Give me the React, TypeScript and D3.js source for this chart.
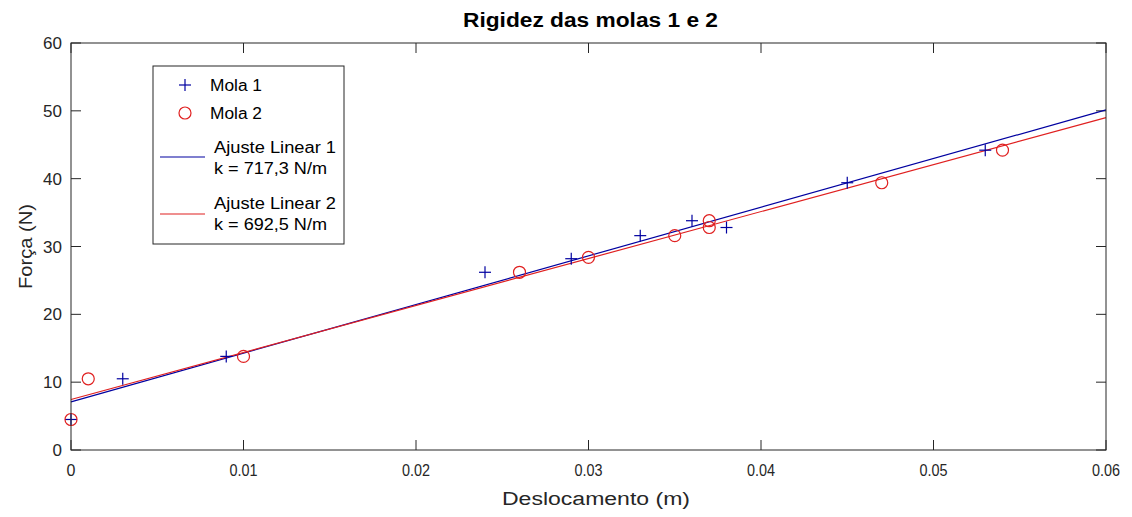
import React from "react";
import * as d3 from "d3";

const xMola1 = [0, 0.003, 0.009, 0.024, 0.029, 0.033, 0.036, 0.038, 0.045, 0.053];
const yMola1 = [4.5, 10.5, 13.8, 26.2, 28.2, 31.6, 33.8, 32.8, 39.4, 44.2];
const xMola2 = [0, 0.001, 0.010, 0.026, 0.030, 0.035, 0.037, 0.037, 0.047, 0.054];
const yMola2 = [4.5, 10.5, 13.8, 26.2, 28.4, 31.6, 33.8, 32.8, 39.4, 44.2];
const fit1 = { k: 717.3, b: 7.1 };
const fit2 = { k: 692.5, b: 7.45 };
const xTicks = [0, 0.01, 0.02, 0.03, 0.04, 0.05, 0.06];
const yTicks = [0, 10, 20, 30, 40, 50, 60];

const W = 1132, H = 517;
const L = 71, R = 1106, T = 43, B = 450;
const BLUE = "#0000a0";
const RED = "#e02020";
const TXT = "#262626";
const FONT = "Arial, 'Liberation Sans', Helvetica, sans-serif";

export default function App() {
  const x = d3.scaleLinear().domain([0, 0.06]).range([L, R]);
  const y = d3.scaleLinear().domain([0, 60]).range([B, T]);
  const line = d3.line<number[]>().x((d) => x(d[0])).y((d) => y(d[1]));
  const l1 = line([[0, fit1.b], [0.06, fit1.b + fit1.k * 0.06]]);
  const l2 = line([[0, fit2.b], [0.06, fit2.b + fit2.k * 0.06]]);
  const tl = 10;
  const plus = (cx: number, cy: number, key: any, c = BLUE) => (
    <g key={key} stroke={c} strokeWidth={1.2}>
      <line x1={cx - 6} x2={cx + 6} y1={cy} y2={cy} />
      <line x1={cx} x2={cx} y1={cy - 6} y2={cy + 6} />
    </g>
  );
  return (
    <svg width={W} height={H} style={{ position: "absolute", left: 0, top: 0, background: "#fff" }} fontFamily={FONT}>
      <rect x={0} y={0} width={W} height={H} fill="#fff" />
      {/* ticks */}
      <g stroke={TXT} strokeWidth={1}>
        {xTicks.map((t, i) => (
          <g key={"xt" + i}>
            <line x1={x(t)} x2={x(t)} y1={B} y2={B - tl} />
            <line x1={x(t)} x2={x(t)} y1={T} y2={T + tl} />
          </g>
        ))}
        {yTicks.map((t, i) => (
          <g key={"yt" + i}>
            <line x1={L} x2={L + tl} y1={y(t)} y2={y(t)} />
            <line x1={R} x2={R - tl} y1={y(t)} y2={y(t)} />
          </g>
        ))}
      </g>
      {/* fit lines */}
      <path d={l1 || ""} stroke={BLUE} strokeWidth={1.2} fill="none" />
      <path d={l2 || ""} stroke={RED} strokeWidth={1.2} fill="none" />
      {/* points */}
      {xMola1.map((v, i) => plus(x(v), y(yMola1[i]), "p" + i))}
      {xMola2.map((v, i) => (
        <circle key={"c" + i} cx={x(v)} cy={y(yMola2[i])} r={6} fill="none" stroke={RED} strokeWidth={1.2} />
      ))}
      <rect x={L} y={T} width={R - L} height={B - T} fill="none" stroke={TXT} strokeWidth={1} />
      {/* tick labels */}
      {xTicks.map((t, i) => (
        <text key={"xl" + i} x={x(t)} y={B + 26} textAnchor="middle" fontSize={16} fill={TXT}
          {...(t === 0 ? {} : { textLength: 28, lengthAdjust: "spacingAndGlyphs" })}>
          {t === 0 ? "0" : String(t)}
        </text>
      ))}
      {yTicks.map((t, i) => (
        <text key={"yl" + i} x={L - 9} y={y(t) + 6} textAnchor="end" fontSize={17} fill={TXT}>
          {t}
        </text>
      ))}
      {/* labels */}
      <text x={(L + R) / 2 + 2} y={27} textAnchor="middle" fontSize={20} fontWeight="bold" fill="#000"
        textLength={255} lengthAdjust="spacingAndGlyphs">
        Rigidez das molas 1 e 2
      </text>
      <text x={596} y={505} textAnchor="middle" fontSize={18} fill={TXT}
        textLength={188} lengthAdjust="spacingAndGlyphs">
        Deslocamento (m)
      </text>
      <text transform={`translate(32,${(T + B) / 2}) rotate(-90)`} textAnchor="middle" fontSize={19} fill={TXT}
        textLength={85} lengthAdjust="spacingAndGlyphs">
        Força (N)
      </text>
      {/* legend */}
      <g>
        <rect x={153} y={66} width={191} height={178} fill="#fff" stroke={TXT} strokeWidth={1} />
        {plus(185, 85, "lg1")}
        <text x={210} y={91} fontSize={16} fill="#000" textLength={52} lengthAdjust="spacingAndGlyphs">Mola 1</text>
        <circle cx={185} cy={113} r={6} fill="none" stroke={RED} strokeWidth={1.2} />
        <text x={210} y={119} fontSize={16} fill="#000" textLength={52} lengthAdjust="spacingAndGlyphs">Mola 2</text>
        <line x1={160} x2={205} y1={157} y2={157} stroke={BLUE} strokeWidth={1.2} />
        <text x={214} y={153} fontSize={16} fill="#000" textLength={122} lengthAdjust="spacingAndGlyphs">Ajuste Linear 1</text>
        <text x={214} y={174} fontSize={16} fill="#000" textLength={113} lengthAdjust="spacingAndGlyphs">k = 717,3 N/m</text>
        <line x1={160} x2={205} y1={214} y2={214} stroke={RED} strokeWidth={1.2} />
        <text x={214} y={209} fontSize={16} fill="#000" textLength={122} lengthAdjust="spacingAndGlyphs">Ajuste Linear 2</text>
        <text x={214} y={230} fontSize={16} fill="#000" textLength={113} lengthAdjust="spacingAndGlyphs">k = 692,5 N/m</text>
      </g>
    </svg>
  );
}
